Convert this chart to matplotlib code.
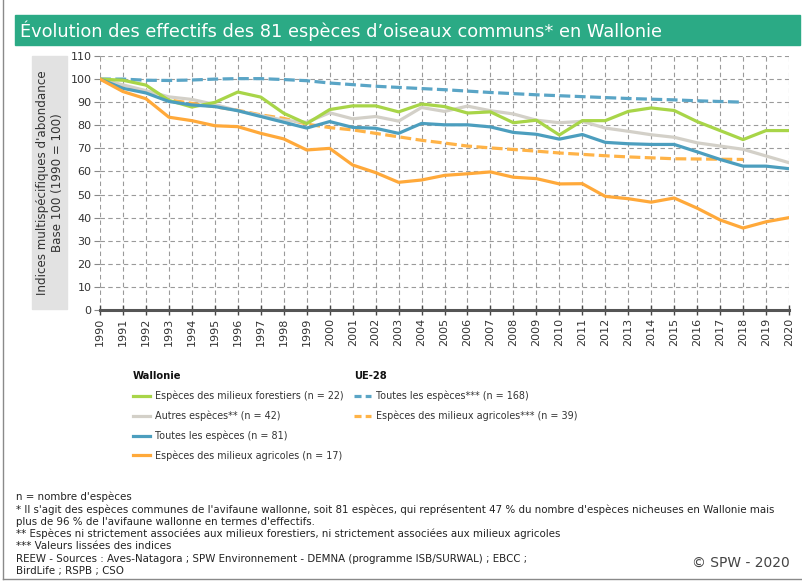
import matplotlib
matplotlib.use('Agg')
import matplotlib.pyplot as plt
from matplotlib.lines import Line2D
from matplotlib.patches import Rectangle

plt.rcParams['font.family'] = ['DejaVu Sans']

years = list(range(1990, 2021))
forest = [100, 99.5, 97.4, 90.8, 87.9, 89.9, 94.4, 92.2, 85.2, 80.7,
          86.8, 88.4, 88.4, 85.8, 89.2, 88.1, 85.3, 85.8, 81.1, 82.2,
          75.8, 82.0, 82.0, 86.0, 87.5, 86.4, 81.6, 77.7, 73.8, 77.7, 77.7]
others = [100, 97.5, 95, 92.3, 91.2, 89, 86.3, 84.2, 82.2, 81.3,
          85.4, 82.8, 83.8, 81.8, 87.7, 86, 88.3, 86.3, 84.9, 82.2,
          81.1, 81.7, 78.8, 77.4, 75.9, 74.8, 72.4, 71.0, 69.6, 66.7, 63.8]
all_wal = [100, 96, 94, 90.3, 88.8, 88.1, 86.3, 83.8, 81.3, 78.8,
           81.6, 79.1, 78.7, 76.5, 80.8, 80.2, 80.2, 79.3, 76.9, 76.1,
           74.0, 76.0, 72.6, 72.0, 71.7, 71.7, 68.5, 65.2, 62.3, 62.3, 61.2]
agri_wal = [100, 94.6, 91.5, 83.5, 82.0, 79.8, 79.4, 76.5, 74.1, 69.3,
            70.0, 62.8, 59.5, 55.3, 56.3, 58.3, 59.0, 59.8, 57.5, 56.9,
            54.6, 54.7, 49.2, 48.2, 46.7, 48.5, 44.1, 39.0, 35.5, 38.2, 40.0]

eu_years = list(range(1990, 2019))
eu_all = [100, 100, 99.5, 99.4, 99.6, 100, 100.2, 100.2, 99.8, 99.3,
          98.3, 97.6, 96.9, 96.4, 95.9, 95.4, 94.8, 94.2, 93.7, 93.2,
          92.8, 92.4, 92.0, 91.6, 91.3, 91.0, 90.6, 90.3, 90.0]
eu_agri = [100, 97, 94.5, 91, 89.5, 88, 86.5, 84.5, 83, 80.5,
           79, 78, 76.5, 75, 73.5, 72.3, 71, 70.2, 69.5, 68.8,
           68, 67.4, 66.8, 66.3, 65.9, 65.5, 65.4, 65.3, 65.2]

wal_labels = ["Espèces des milieux forestiers (n = 22)",
              "Autres espèces** (n = 42)",
              "Toutes les espèces (n = 81)",
              "Espèces des milieux agricoles (n = 17)"]
eu_labels = ["Toutes les espèces*** (n = 168)",
             "Espèces des milieux agricoles*** (n = 39)"]

title = "Évolution des effectifs des 81 espèces d’oiseaux communs* en Wallonie"
ylabel = "Indices multispécifiques d'abondance\nBase 100 (1990 = 100)"
footer = [
    "n = nombre d'espèces",
    "* Il s'agit des espèces communes de l'avifaune wallonne, soit 81 espèces, qui représentent 47 % du nombre d'espèces nicheuses en Wallonie mais",
    "plus de 96 % de l'avifaune wallonne en termes d'effectifs.",
    "** Espèces ni strictement associées aux milieux forestiers, ni strictement associées aux milieux agricoles",
    "*** Valeurs lissées des indices",
    "REEW - Sources : Aves-Natagora ; SPW Environnement - DEMNA (programme ISB/SURWAL) ; EBCC ;",
    "BirdLife ; RSPB ; CSO",
]
copyright_txt = "© SPW - 2020"

C_GREEN = '#a8d548'
C_GRAY = '#d3d0c8'
C_BLUE = '#4c9ebe'
C_ORANGE = '#ffa93a'
C_EU_BLUE = '#5aa5c6'
C_EU_ORANGE = '#ffb347'

W, H = 802, 581
fig = plt.figure(figsize=(W / 100, H / 100), dpi=100)


def fx(px):
    return px / W


def fy(py):
    return 1 - py / H


# title bar
fig.add_artist(Rectangle((fx(15), fy(45)), fx(800) - fx(15), fy(15) - fy(45),
                         transform=fig.transFigure, color='#2baa85', zorder=0))
fig.text(fx(20), fy(30.5), title, color='white', fontsize=12.8, va='center', ha='left')

# frame lines
fig.add_artist(Line2D([fx(3), fx(3)], [fy(0), fy(579)], transform=fig.transFigure,
                      color='#8a8a8a', lw=1))
fig.add_artist(Line2D([fx(3), fx(802)], [fy(579), fy(579)], transform=fig.transFigure,
                      color='#8a8a8a', lw=1))

# y label box
fig.add_artist(Rectangle((fx(32), fy(309)), fx(67) - fx(32), fy(56) - fy(309),
                         transform=fig.transFigure, color='#e2e2e2', zorder=0))
fig.text(fx(50), fy(183), ylabel, rotation=90, ha='center', va='center',
         fontsize=8.6, color='#333333', linespacing=1.2, multialignment='center')

ax = fig.add_axes([fx(100), fy(310), fx(789) - fx(100), fy(56) - fy(310)])
ax.set_facecolor('none')

lw = 2.3
ax.plot(eu_years, eu_all, color=C_EU_BLUE, lw=lw, dashes=(3.4, 1.4), zorder=3)
ax.plot(eu_years, eu_agri, color=C_EU_ORANGE, lw=lw, dashes=(3.4, 1.4), zorder=3)
ax.plot(years, others, color=C_GRAY, lw=lw, zorder=4)
ax.plot(years, forest, color=C_GREEN, lw=lw, zorder=5)
ax.plot(years, all_wal, color=C_BLUE, lw=lw, zorder=6)
ax.plot(years, agri_wal, color=C_ORANGE, lw=lw, zorder=7)

ax.set_xlim(1990, 2020)
ax.set_ylim(0, 110)
ax.set_xticks(years)
ax.set_xticklabels([str(y) for y in years], rotation=90, fontsize=8, color='#333333')
ax.set_yticks(list(range(0, 111, 10)))
ax.set_yticklabels([str(v) for v in range(0, 111, 10)], fontsize=8, color='#333333')
ax.grid(True, color='#9a9a9a', linestyle=(0, (4, 3)), linewidth=0.8, zorder=1)
ax.set_axisbelow(True)
for s in ['left', 'top', 'right']:
    ax.spines[s].set_visible(False)
ax.spines['bottom'].set_color('#555555')
ax.spines['bottom'].set_linewidth(2.2)
ax.spines['bottom'].set_zorder(8)
ax.tick_params(axis='x', direction='inout', length=7, width=1, color='#444444', pad=2)
ax.tick_params(axis='y', direction='out', length=4, width=0.8, color='#888888', pad=2)

# legends
wal_handles = [Line2D([], [], color=c, lw=lw) for c in [C_GREEN, C_GRAY, C_BLUE, C_ORANGE]]
eu_handles = [Line2D([], [], color=c, lw=lw, dashes=(2.2, 1.3)) for c in [C_EU_BLUE, C_EU_ORANGE]]
common = dict(loc='upper left', frameon=False, fontsize=6.95, handlelength=1.8,
              handletextpad=0.45, labelspacing=0.98, borderpad=0, borderaxespad=0,
              title_fontproperties={'weight': 'bold', 'size': 7.2}, alignment='left')
leg1 = fig.legend(wal_handles, wal_labels, bbox_to_anchor=(fx(133), fy(371)),
                  title='Wallonie', **common)
leg2 = fig.legend(eu_handles, eu_labels, bbox_to_anchor=(fx(354), fy(371)),
                  title='UE-28', **common)
for leg in (leg1, leg2):
    for t in leg.get_texts():
        t.set_color('#333333')
    leg.get_title().set_color('#111111')

# footer
for i, line in enumerate(footer):
    fig.text(fx(16), fy(497 + 12.3 * i), line, fontsize=7.35, color='#222222',
             va='center', ha='left')
fig.text(fx(790), fy(563), copyright_txt, fontsize=10, color='#444444',
         va='center', ha='right')

fig.savefig('out.png', dpi=100)
